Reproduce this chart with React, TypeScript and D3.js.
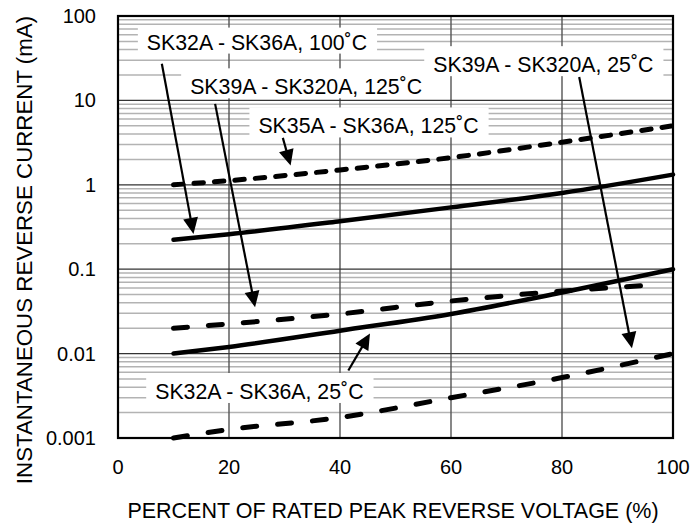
import React, { useEffect, useRef } from "react";
import * as d3 from "d3";

const W = 692;
const H = 526;
const PLOT = { left: 118, right: 673, top: 16, bottom: 438 };
const FONT = "'Liberation Sans', Arial, Helvetica, sans-serif";

const X_TICKS = [0, 20, 40, 60, 80, 100];
const X_TICK_LABELS = ["0", "20", "40", "60", "80", "100"];
const Y_TICKS = [0.001, 0.01, 0.1, 1, 10, 100];
const Y_TICK_LABELS = ["0.001", "0.01", "0.1", "1", "10", "100"];
const X_TITLE = "PERCENT OF RATED PEAK REVERSE VOLTAGE (%)";
const Y_TITLE = "INSTANTANEOUS REVERSE CURRENT (mA)";

// series values (x = % of rated peak reverse voltage, y = mA)
const X_SK35_125 = [10, 20, 40, 60, 80, 100];
const Y_SK35_125 = [1.0, 1.12, 1.5, 2.1, 3.2, 5.0];
const X_SK32_100 = [10, 20, 40, 60, 80, 100];
const Y_SK32_100 = [0.223, 0.26, 0.37, 0.54, 0.8, 1.32];
const X_SK39_125 = [10, 20, 40, 60, 80, 96.5];
const Y_SK39_125 = [0.02, 0.0225, 0.0295, 0.042, 0.055, 0.065];
const X_SK32_25 = [10, 20, 40, 60, 80, 100];
const Y_SK32_25 = [0.01, 0.012, 0.0187, 0.0295, 0.053, 0.1];
const X_SK39_25 = [10, 20, 40, 60, 80, 100];
const Y_SK39_25 = [0.001, 0.00126, 0.00175, 0.003, 0.0052, 0.01];

// annotation labels (anchor = text start / baseline, in data units)
const LABEL_TEXT = [
  "SK32A - SK36A, 100\u02DAC",
  "SK39A - SK320A, 125\u02DAC",
  "SK35A - SK36A, 125\u02DAC",
  "SK39A - SK320A, 25\u02DAC",
  "SK32A - SK36A, 25\u02DAC",
];
const LABEL_X = [5.2, 13.0, 25.3, 56.8, 6.7];
const LABEL_Y = [40, 11.8, 4.06, 21.6, 0.0029];

// arrows (data units)
const ARROW_FROM_X = [7.9, 17.5, 29.7, 83.1, 41.5];
const ARROW_FROM_Y = [27.2, 9.1, 3.6, 18.9, 0.0063];
const ARROW_TO_X = [13.6, 24.7, 31.1, 92.6, 45.4];
const ARROW_TO_Y = [0.262, 0.0354, 1.69, 0.0116, 0.0173];

type Series = { xs: number[]; ys: number[]; dash: string | null; width: number };
const SERIES: Series[] = [
  { xs: X_SK35_125, ys: Y_SK35_125, dash: "9.5,11", width: 5 },
  { xs: X_SK32_100, ys: Y_SK32_100, dash: null, width: 4.5 },
  { xs: X_SK39_125, ys: Y_SK39_125, dash: "14,21", width: 5 },
  { xs: X_SK32_25, ys: Y_SK32_25, dash: null, width: 4.5 },
  { xs: X_SK39_25, ys: Y_SK39_25, dash: "14,21", width: 5 },
];

export default function App() {
  const ref = useRef<SVGSVGElement | null>(null);

  useEffect(() => {
    const svg = d3.select(ref.current);
    svg.selectAll("*").remove();

    const x = d3.scaleLinear().domain([0, 100]).range([PLOT.left, PLOT.right]);
    const y = d3.scaleLog().domain([0.001, 100]).range([PLOT.bottom, PLOT.top]);

    svg.append("rect").attr("width", W).attr("height", H).attr("fill", "#fff");

    // minor horizontal gridlines
    const minor: number[] = [];
    for (let d = 0.001; d < 100; d *= 10) {
      for (let k = 2; k <= 9; k++) minor.push(d * k);
    }
    const g = svg.append("g");
    g.selectAll("line.minor")
      .data(minor)
      .enter()
      .append("line")
      .attr("x1", PLOT.left)
      .attr("x2", PLOT.right)
      .attr("y1", (d) => y(d))
      .attr("y2", (d) => y(d))
      .attr("stroke", "#b3b3b3")
      .attr("stroke-width", 1.5);

    // vertical gridlines
    g.selectAll("line.vx")
      .data(X_TICKS.slice(1, -1))
      .enter()
      .append("line")
      .attr("x1", (d) => x(d))
      .attr("x2", (d) => x(d))
      .attr("y1", PLOT.top)
      .attr("y2", PLOT.bottom)
      .attr("stroke", "#555")
      .attr("stroke-width", 1.4);

    // decade gridlines
    g.selectAll("line.major")
      .data(Y_TICKS.slice(1, -1))
      .enter()
      .append("line")
      .attr("x1", PLOT.left)
      .attr("x2", PLOT.right)
      .attr("y1", (d) => y(d))
      .attr("y2", (d) => y(d))
      .attr("stroke", "#333")
      .attr("stroke-width", 1.3);

    // label boxes + text
    const lg = svg.append("g");
    LABEL_TEXT.forEach((t, i) => {
      const rect = lg.append("rect").attr("fill", "#fff");
      const txt = lg
        .append("text")
        .attr("x", x(LABEL_X[i]))
        .attr("y", y(LABEL_Y[i]))
        .attr("font-family", FONT)
        .attr("font-size", 21.3)
        .attr("fill", "#000")
        .text(t);
      const bb = (txt.node() as SVGTextElement).getBBox();
      const capTop = y(LABEL_Y[i]) - 15;
      const top = i === 0 ? capTop - 7 : capTop - 11;
      const bottom = y(LABEL_Y[i]) + 4;
      rect
        .attr("x", bb.x - 9)
        .attr("y", top)
        .attr("width", bb.width + 19)
        .attr("height", bottom - top);
    });

    // curves
    const line = d3
      .line<[number, number]>()
      .x((d) => x(d[0]))
      .y((d) => y(d[1]))
      .curve(d3.curveMonotoneX);
    SERIES.forEach((s) => {
      const pts: [number, number][] = s.xs.map((v, i) => [v, s.ys[i]]);
      const p = svg
        .append("path")
        .attr("d", line(pts))
        .attr("fill", "none")
        .attr("stroke", "#000")
        .attr("stroke-width", s.width)
        .attr("stroke-linecap", "round");
      if (s.dash) p.attr("stroke-dasharray", s.dash);
    });

    // arrows
    const HEAD_L = 16;
    const HEAD_W = 7.5;
    ARROW_FROM_X.forEach((_, i) => {
      const x0 = x(ARROW_FROM_X[i]);
      const y0 = y(ARROW_FROM_Y[i]);
      const x1 = x(ARROW_TO_X[i]);
      const y1 = y(ARROW_TO_Y[i]);
      const len = Math.hypot(x1 - x0, y1 - y0);
      const ux = (x1 - x0) / len;
      const uy = (y1 - y0) / len;
      const bx = x1 - ux * HEAD_L;
      const by = y1 - uy * HEAD_L;
      svg
        .append("line")
        .attr("x1", x0)
        .attr("y1", y0)
        .attr("x2", bx + ux * 2)
        .attr("y2", by + uy * 2)
        .attr("stroke", "#000")
        .attr("stroke-width", 2.2);
      svg
        .append("polygon")
        .attr(
          "points",
          [
            [x1, y1],
            [bx - uy * HEAD_W, by + ux * HEAD_W],
            [bx + uy * HEAD_W, by - ux * HEAD_W],
          ]
            .map((p) => p.join(","))
            .join(" ")
        )
        .attr("fill", "#000");
    });

    // border
    svg
      .append("rect")
      .attr("x", PLOT.left)
      .attr("y", PLOT.top)
      .attr("width", PLOT.right - PLOT.left)
      .attr("height", PLOT.bottom - PLOT.top)
      .attr("fill", "none")
      .attr("stroke", "#000")
      .attr("stroke-width", 2.2);

    // tick labels
    svg
      .selectAll("text.xt")
      .data(X_TICKS)
      .enter()
      .append("text")
      .attr("x", (d) => x(d))
      .attr("y", 474)
      .attr("text-anchor", "middle")
      .attr("font-family", FONT)
      .attr("font-size", 20)
      .text((_, i) => X_TICK_LABELS[i]);
    svg
      .selectAll("text.yt")
      .data(Y_TICKS)
      .enter()
      .append("text")
      .attr("x", 96)
      .attr("y", (d) => y(d) + 7)
      .attr("text-anchor", "end")
      .attr("font-family", FONT)
      .attr("font-size", 20)
      .text((_, i) => Y_TICK_LABELS[i]);

    // axis titles
    svg
      .append("text")
      .attr("x", 393)
      .attr("y", 518)
      .attr("text-anchor", "middle")
      .attr("font-family", FONT)
      .attr("font-size", 21.5)
      .text(X_TITLE);
    svg
      .append("text")
      .attr("transform", "translate(32,250) rotate(-90)")
      .attr("text-anchor", "middle")
      .attr("font-family", FONT)
      .attr("font-size", 22.3)
      .text(Y_TITLE);
  }, []);

  return (
    <svg
      ref={ref}
      width={W}
      height={H}
      style={{ position: "absolute", left: 0, top: 0, display: "block" }}
    />
  );
}
